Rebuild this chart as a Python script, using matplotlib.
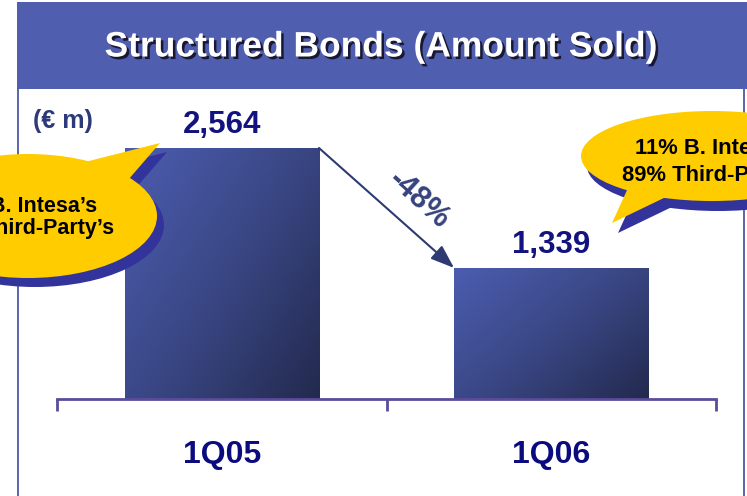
import numpy as np
import matplotlib
matplotlib.use("Agg")
import matplotlib.pyplot as plt
from matplotlib.patches import Rectangle, Ellipse, Polygon
from matplotlib.colors import LinearSegmentedColormap
import matplotlib.patheffects as pe

# ---- data -------------------------------------------------------------
categories = ["1Q05", "1Q06"]
amounts = [2564, 1339]          # structured bonds sold, EUR millions
title = "Structured Bonds (Amount Sold)"
unit_label = "(€ m)"
left_note = ["B. Intesa\u2019s", "Third-Party\u2019s"]
right_note = ["11% B. Intesa\u2019s", "89% Third-Party\u2019s"]

FONT = "Liberation Sans"
plt.rcParams["font.family"] = [FONT, "DejaVu Sans"]
plt.rcParams["font.weight"] = "bold"

W, H = 747, 496
fig = plt.figure(figsize=(W / 100, H / 100), dpi=100)
fig.patch.set_facecolor("white")

# ---- bar axes ----------------------------------------------------------
base_px, left_px, right_px, top_px = 399, 57, 716, 105.3
ax = fig.add_axes([left_px / W, (H - base_px) / H,
                   (right_px - left_px) / W, (base_px - top_px) / H])
ax.set_facecolor("none")
x = np.arange(len(categories))
bar_w = 0.59
bars = ax.bar(x, amounts, width=bar_w, color="none", edgecolor="none", zorder=2)

grad_cmap = LinearSegmentedColormap.from_list(
    "barfill", ["#4c5db0", "#3a4785", "#232a4e"])
ny, nx = 200, 200
u = np.linspace(0, 1, nx)[None, :]
v = np.linspace(0, 1, ny)[:, None]
grad = (u * 0.55 + v * 0.45)
for b in bars:
    x0, w = b.get_x(), b.get_width()
    im = ax.imshow(grad, extent=(x0, x0 + w, 0, b.get_height()), origin="upper",
                   cmap=grad_cmap, aspect="auto", zorder=1, interpolation="bilinear")
    im.set_clip_path(b)

ax.set_xlim(-0.5, 1.5)
ax.set_ylim(0, 3000)
for s in ("left", "right", "top"):
    ax.spines[s].set_visible(False)
axis_col = "#5b4b99"
ax.spines["bottom"].set_color(axis_col)
ax.spines["bottom"].set_linewidth(2)
ax.set_yticks([])
ax.set_xticks([-0.5, 0.5, 1.5])
ax.set_xticklabels([])
ax.tick_params(axis="x", direction="out", length=8.6, width=2, color=axis_col)

# value labels above bars
for xi, val in zip(x, amounts):
    ax.annotate(f"{val:,}", xy=(xi, val), xytext=(0, 11), textcoords="offset points",
                ha="center", va="baseline", fontsize=22.5, fontweight="bold",
                color="#13137f", family=FONT)

# category labels below the axis
for xi, cat in zip(x, categories):
    ax.annotate(cat, xy=(xi, 0), xytext=(0, -46), textcoords="offset points",
                ha="center", va="baseline", fontsize=23, fontweight="bold",
                color="#0b0b80", family=FONT)

# change arrow between the two bars
change = round((amounts[1] - amounts[0]) / amounts[0] * 100)
ax.annotate("", xy=(1 - bar_w / 2, amounts[1]), xytext=(bar_w / 2, amounts[0]),
            arrowprops=dict(arrowstyle="-|>,head_length=0.6,head_width=0.22",
                            mutation_scale=24, color="#2e3a72", lw=1.5,
                            shrinkA=0, shrinkB=0), zorder=3)

# ---- overlay in pixel coordinates --------------------------------------
ov = fig.add_axes([0, 0, 1, 1], zorder=5)
ov.set_xlim(0, W)
ov.set_ylim(H, 0)
ov.axis("off")
ov.patch.set_alpha(0)

ov.text(419, 200, f"{change}%", rotation=-42, rotation_mode="anchor",
        ha="center", va="center", fontsize=22, fontweight="bold",
        color="#36427c", family=FONT)

# frame lines and title band
frame_col = "#3d4aa0"
ov.plot([17.5, 17.5], [88, H], color=frame_col, lw=1.2, zorder=1)
ov.plot([744, 744], [88, H], color=frame_col, lw=1.2, zorder=1)
ov.add_patch(Rectangle((17, 2), W - 17, 87, facecolor="#4f5eae",
                       edgecolor="none", zorder=2))
ov.text(381, 47, title, ha="center", va="center", fontsize=25.5,
        fontweight="bold", color="white", family=FONT, zorder=3,
        path_effects=[pe.withSimplePatchShadow(offset=(1.8, -1.8),
                                               shadow_rgbFace="#15152e", alpha=0.95)])

ov.text(33, 128, unit_label, ha="left", va="baseline", fontsize=18,
        fontweight="bold", color="#2c3a7a", family=FONT)

# speech bubbles
yellow, shade = "#ffcc00", "#33339c"


def bubble(cx, cy, w, h, tail, dx, dy):
    ov.add_patch(Ellipse((cx + dx, cy + dy), w, h, facecolor=shade,
                         edgecolor="none", zorder=4))
    ov.add_patch(Polygon([(px + dx, py + dy) for px, py in tail],
                         facecolor=shade, edgecolor="none", zorder=4))
    ov.add_patch(Ellipse((cx, cy), w, h, facecolor=yellow,
                         edgecolor="none", zorder=5))
    ov.add_patch(Polygon(tail, facecolor=yellow, edgecolor="none", zorder=5))


bubble(28, 216, 258, 124, [(85, 162), (160, 143), (128, 180)], 7, 9)
bubble(712, 156, 262, 90, [(628, 188), (612, 223), (668, 196)], 6, 10)

ov.text(97, 212, left_note[0], ha="right", va="baseline", fontsize=15.5,
        fontweight="bold", color="black", family=FONT, zorder=6)
ov.text(115, 234, left_note[1], ha="right", va="baseline", fontsize=15.5,
        fontweight="bold", color="black", family=FONT, zorder=6)
ov.text(635, 154, right_note[0], ha="left", va="baseline", fontsize=15.8,
        fontweight="bold", color="black", family=FONT, zorder=6)
ov.text(622, 181, right_note[1], ha="left", va="baseline", fontsize=15.8,
        fontweight="bold", color="black", family=FONT, zorder=6)

fig.savefig("out.png", dpi=100)
